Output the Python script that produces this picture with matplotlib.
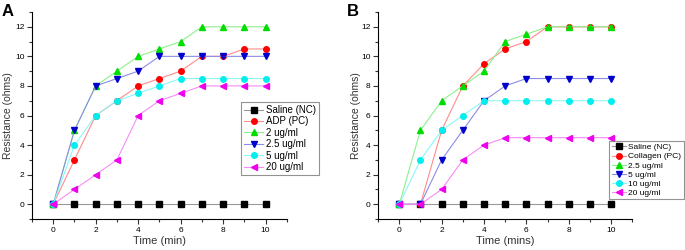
import matplotlib
matplotlib.use("Agg")
import matplotlib.pyplot as plt
import matplotlib.colors as mcolors
import numpy as np
from matplotlib.ticker import MultipleLocator

plt.rcParams['font.family'] = ['Liberation Sans', 'DejaVu Sans']

# time points (min)
time = [0, 1, 2, 3, 4, 5, 6, 7, 8, 9, 10]

# panel A values
labelsA = ['Saline (NC)', 'ADP (PC)', '2 ug/ml', '2.5 ug/ml', '5 ug/ml', '20 ug/ml']
salineA = [0, 0, 0, 0, 0, 0, 0, 0, 0, 0, 0]
adpA = [0, 3, 6, 7, 8, 8.5, 9, 10, 10, 10.5, 10.5]
c2A = [0, 5, 8, 9, 10, 10.5, 11, 12, 12, 12, 12]
c25A = [0, 5, 8, 8.5, 9, 10, 10, 10, 10, 10, 10]
c5A = [0, 4, 6, 7, 7.5, 8, 8.5, 8.5, 8.5, 8.5, 8.5]
c20A = [0, 1, 2, 3, 6, 7, 7.5, 8, 8, 8, 8]

# panel B values
labelsB = ['Saline (NC)', 'Collagen (PC)', '2.5 ug/ml', '5 ug/ml', '10 ug/ml', '20 ug/ml']
salineB = [0, 0, 0, 0, 0, 0, 0, 0, 0, 0, 0]
collB = [0, 0, 5, 8, 9.5, 10.5, 11, 12, 12, 12, 12]
c25B = [0, 5, 7, 8, 9, 11, 11.5, 12, 12, 12, 12]
c5B = [0, 0, 3, 5, 7, 8, 8.5, 8.5, 8.5, 8.5, 8.5]
c10B = [0, 3, 5, 6, 7, 7, 7, 7, 7, 7, 7]
c20B = [0, 0, 1, 3, 4, 4.5, 4.5, 4.5, 4.5, 4.5, 4.5]

colors = ['#000000', '#ff0000', '#00dd00', '#0000cc', '#00eeee', '#ee00ee']
markers = ['s', 'o', '^', 'v', 'o', '<']


def lighten(c, f):
    rgb = np.array(mcolors.to_rgb(c))
    return tuple(rgb + (1 - rgb) * f)


def drawPanel(ax, series, labels, xlabel, legpos, legfs, hl, ylx, letter):
    for i in range(len(series)):
        c = colors[i]
        lc = lighten(c, 0.55)
        if i == 0:
            lc = '#999999'
        ax.plot(time, series[i], color=lc, lw=0.8, marker=markers[i],
                ms=4, mfc=c, mec=c, label=labels[i])
    ax.set_xlim(-1, 11)
    ax.set_ylim(-1, 13)
    ax.xaxis.set_major_locator(MultipleLocator(2))
    ax.xaxis.set_minor_locator(MultipleLocator(1))
    ax.yaxis.set_major_locator(MultipleLocator(2))
    ax.yaxis.set_minor_locator(MultipleLocator(1))
    ax.spines['top'].set_visible(False)
    ax.spines['right'].set_visible(False)
    ax.tick_params(which='both', direction='out', labelsize=6, width=0.8,
                   color='#333333', pad=2)
    ax.tick_params(which='major', length=3.5)
    ax.tick_params(which='minor', length=2)
    ax.set_xlabel(xlabel, fontsize=8, color='#333333')
    ax.xaxis.set_label_coords(0.5, -0.082)
    ax.set_ylabel('Resistance (ohms)', fontsize=7.5, color='#333333')
    ax.yaxis.set_label_coords(ylx, 0.5)
    leg = ax.legend(loc='upper left', bbox_to_anchor=legpos, bbox_transform=fig.transFigure,
                    fontsize=legfs, frameon=True, fancybox=False, borderpad=0.3,
                    labelspacing=0.15, handlelength=hl, handletextpad=0.3,
                    borderaxespad=0)
    leg.get_frame().set_edgecolor('#777777')
    leg.get_frame().set_linewidth(0.8)
    fig.text(ax.get_position().x0 - 0.045, 0.985, letter, fontsize=12,
             fontweight='bold', va='top', ha='left')


fig = plt.figure(figsize=(6.85, 2.5), dpi=100)
axA = fig.add_axes([0.0467, 0.124, 0.372, 0.828])
axB = fig.add_axes([0.552, 0.124, 0.371, 0.828])

drawPanel(axA, [salineA, adpA, c2A, c25A, c5A, c20A], labelsA, 'Time (min)',
          (241 / 685, 1 - 102 / 250), 7, 2.0, -0.075, 'A')
drawPanel(axB, [salineB, collB, c25B, c5B, c10B, c20B], labelsB, 'Time (mins)',
          (609 / 685, 1 - 141 / 250), 6, 1.7, -0.067, 'B')

fig.savefig('out.png', dpi=100)
